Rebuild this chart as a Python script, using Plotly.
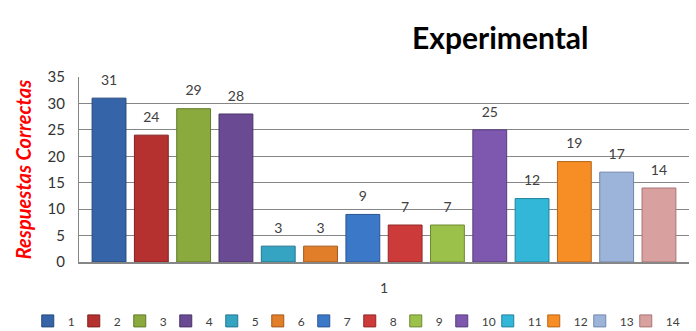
import plotly.graph_objects as go

names = ["1", "2", "3", "4", "5", "6", "7", "8", "9", "10", "11", "12", "13", "14"]
values = [31, 24, 29, 28, 3, 3, 9, 7, 7, 25, 12, 19, 17, 14]
colors = ["#3565A8", "#B5312F", "#8AAA3E", "#6A4A93", "#35A3C2", "#E07E2A", "#3C78C8",
          "#CC3A3A", "#9BC14A", "#7D58AE", "#33B7D8", "#F68D25", "#9DB4DA", "#D9A0A0"]
edges = ["#24477A", "#80201F", "#61792A", "#4A3368", "#24778F", "#A4591C", "#2A5592",
         "#932828", "#6E8A33", "#583D7D", "#22839C", "#B7661A", "#7086AD", "#A87474"]
category_label = "1"
y_ticks = [0, 5, 10, 15, 20, 25, 30, 35]

positions = list(range(1, len(values) + 1))

fig = go.Figure()
for i, (n, v, c, e) in enumerate(zip(names, values, colors, edges)):
    fig.add_trace(go.Bar(
        x=[positions[i]], y=[v], name=n,
        marker=dict(color=c, line=dict(color=e, width=1)),
        width=0.8, hoverinfo="skip",
        legendwidth=16 if i == len(values) - 1 else 1,
    ))

fig.add_trace(go.Scatter(
    x=positions, y=values, mode="markers+text", text=[str(v) for v in values],
    textposition="top center", marker=dict(size=14, opacity=0),
    textfont=dict(family="Lato", size=14, color="#404040"),
    showlegend=False, cliponaxis=False, hoverinfo="skip",
))

fig.update_layout(
    width=696, height=331,
    margin=dict(l=79, r=7, t=77, b=69, autoexpand=False),
    paper_bgcolor="white", plot_bgcolor="white",
    barmode="overlay",
    showlegend=True,
    legend=dict(orientation="h", x=-0.084, xanchor="left",
                y=-0.24, yanchor="top",
                font=dict(family="Lato", size=12, color="#404040"),
                itemwidth=30, traceorder="normal", entrywidthmode="pixels"),
    annotations=[dict(text="<b>Experimental</b>", xref="paper", yref="paper",
                      x=0.69, y=1.11, xanchor="center", yanchor="bottom", showarrow=False,
                      font=dict(family="Lato", size=30, color="#000000"))],
)
fig.update_xaxes(range=[0.29, 14.71], tickmode="array", tickvals=[7.5], ticktext=[category_label],
                 showgrid=False, showline=True, linecolor="#868686", linewidth=2,
                 ticks="", ticklabelstandoff=12,
                 tickfont=dict(family="Lato", size=14, color="#404040"), zeroline=False)
fig.update_yaxes(range=[0, 35], tickmode="array", tickvals=y_ticks,
                 showgrid=True, gridcolor="#868686", gridwidth=1,
                 showline=True, linecolor="#868686", linewidth=1, zeroline=False,
                 ticks="", ticklabelstandoff=10,
                 tickfont=dict(family="Lato", size=15, color="#333333"),
                 title=dict(text="<b><i>Respuestas Correctas</i></b>", standoff=10,
                            font=dict(family="Lato", size=20, color="#FF0000")))

fig.write_html("out.html")
